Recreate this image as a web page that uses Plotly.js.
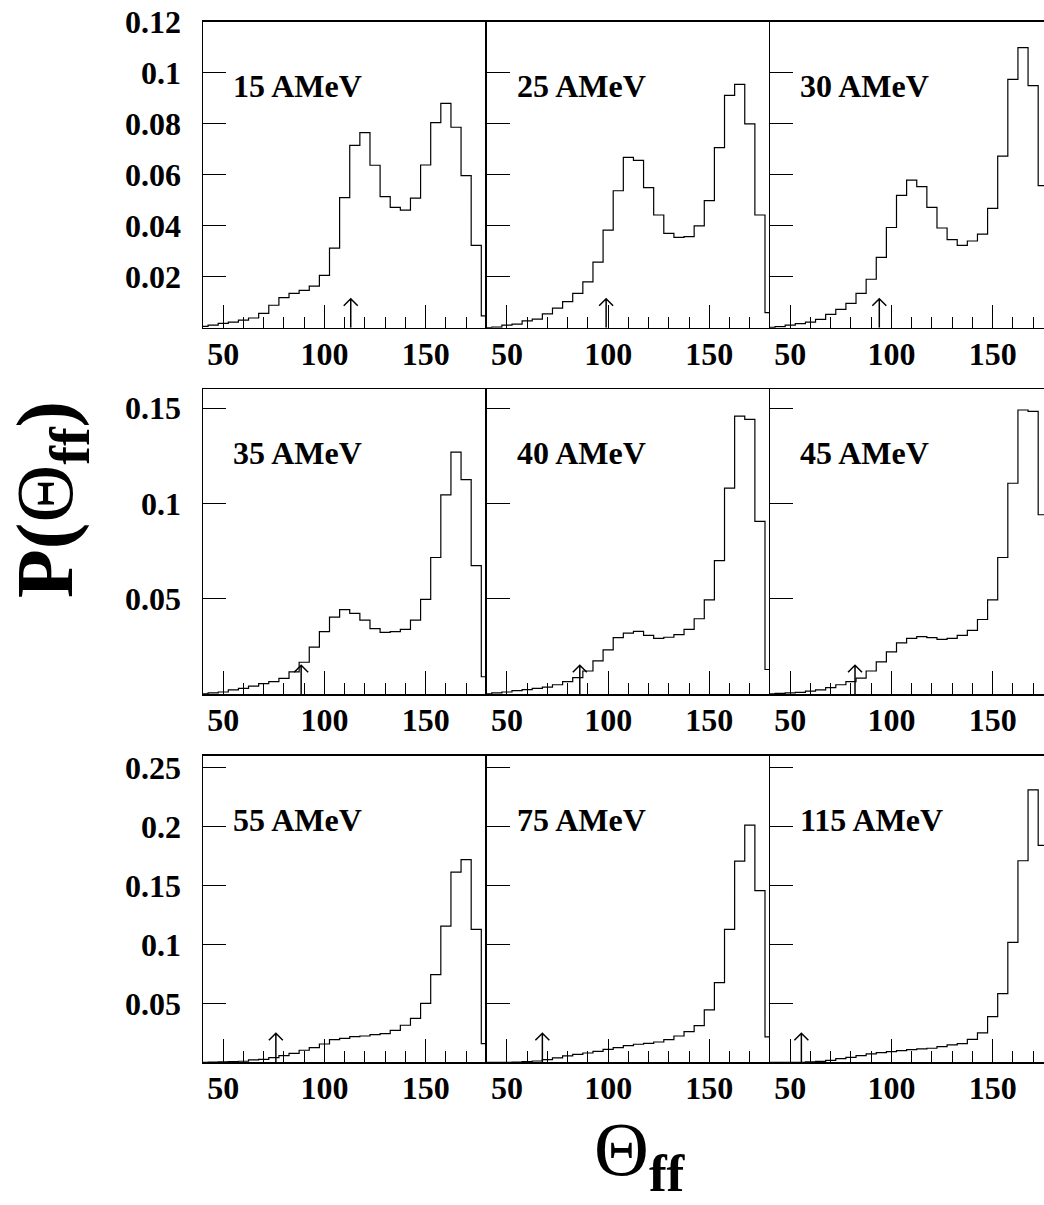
<!DOCTYPE html>
<html><head><meta charset="utf-8">
<script src="https://cdn.plot.ly/plotly-3.0.1.min.js"></script>
<style>html,body{margin:0;padding:0;background:#fff}</style>
</head><body>
<div id="chart" style="width:1044px;height:1205px"></div>
<script>
// ---- data ----
const theta = [40,45,50,55,60,65,70,75,80,85,90,95,100,105,110,115,120,125,130,135,140,145,150,155,160,165,170,175,180];
const energyLabels = ['15 AMeV','25 AMeV','30 AMeV','35 AMeV','40 AMeV','45 AMeV','55 AMeV','75 AMeV','115 AMeV'];
const p15 = [0.0005,0.001,0.0017,0.0022,0.003,0.0038,0.0056,0.0088,0.0118,0.0135,0.0146,0.0163,0.0205,0.0312,0.051,0.0715,0.0765,0.0637,0.0514,0.0472,0.0461,0.0508,0.0638,0.0804,0.088,0.0786,0.0596,0.0323,0.0046];
const p25 = [0,0.0002,0.001,0.0014,0.0027,0.0034,0.0054,0.0077,0.0102,0.0135,0.018,0.0257,0.0383,0.0537,0.0668,0.0656,0.0549,0.0442,0.037,0.0354,0.0357,0.0399,0.0498,0.0706,0.0911,0.0954,0.0799,0.0442,0.0059];
const p30 = [0.0001,0.0004,0.001,0.0016,0.0022,0.0033,0.0052,0.0072,0.0095,0.0135,0.019,0.0276,0.0393,0.0519,0.0579,0.0553,0.0472,0.0391,0.0345,0.0323,0.034,0.0367,0.0468,0.0673,0.0974,0.1098,0.0949,0.0557,0.01];
const p35 = [0.0003,0.0007,0.0012,0.0023,0.0031,0.0043,0.0056,0.0066,0.0083,0.0118,0.0168,0.0247,0.0328,0.0404,0.0444,0.0424,0.0389,0.0344,0.0325,0.0328,0.034,0.0389,0.0497,0.0717,0.1045,0.1269,0.1125,0.0674,0.0092];
const p40 = [0.0003,0.0007,0.0012,0.0019,0.0024,0.0031,0.0038,0.005,0.0066,0.0087,0.0122,0.0175,0.0233,0.0297,0.0321,0.033,0.0309,0.0293,0.0299,0.0313,0.034,0.0396,0.0495,0.0701,0.108,0.1458,0.1441,0.0906,0.013];
const p45 = [0.0003,0.0005,0.0007,0.001,0.0017,0.0023,0.0035,0.005,0.0066,0.0085,0.0122,0.017,0.0222,0.0269,0.0293,0.0302,0.0297,0.0288,0.0293,0.0309,0.0335,0.0392,0.0495,0.0717,0.1106,0.149,0.1483,0.0941,0.015];
const p55 = [0,0.0002,0.0003,0.0005,0.0009,0.002,0.0025,0.004,0.0056,0.0076,0.0102,0.0124,0.0155,0.0192,0.0203,0.0218,0.0223,0.0234,0.0243,0.0271,0.0314,0.0373,0.05,0.0743,0.1155,0.1613,0.1718,0.1127,0.0158];
const p75 = [0,0,0,0.0002,0.0006,0.0011,0.0023,0.0037,0.0054,0.0068,0.0079,0.0093,0.011,0.0124,0.0141,0.0153,0.0161,0.0172,0.0192,0.0223,0.026,0.0311,0.0444,0.0675,0.1127,0.1706,0.2011,0.1455,0.0215];
const p115 = [0,0,0,0,0.0003,0.0008,0.0017,0.0031,0.0042,0.0056,0.0071,0.0082,0.009,0.0099,0.0107,0.0113,0.0119,0.0133,0.0147,0.0158,0.0195,0.0249,0.0387,0.0582,0.1017,0.1709,0.2311,0.1839,0.1];
const arrowTheta = [113,99,94,88.5,86,82,76,67.5,55.5];
const xTickVals = [50,100,150];
const xTickText = ['50','100','150'];
const yTickValsRow1 = [0.02,0.04,0.06,0.08,0.1,0.12];
const yTickTextRow1 = ['0.02','0.04','0.06','0.08','0.1','0.12'];
const yTickValsRow2 = [0.05,0.1,0.15];
const yTickTextRow2 = ['0.05','0.1','0.15'];
const yTickValsRow3 = [0.05,0.1,0.15,0.2,0.25];
const yTickTextRow3 = ['0.05','0.1','0.15','0.2','0.25'];
const yMaxRows = [0.12,0.16,0.26];

const series = [p15,p25,p30,p35,p40,p45,p55,p75,p115];
const yTicks = [[yTickValsRow1,yTickTextRow1],[yTickValsRow2,yTickTextRow2],[yTickValsRow3,yTickTextRow3]];

// ---- geometry (pixels) ----
const W = 1044, H = 1205;
const colLeft = [203, 486.7, 770], colRight = [486.7, 770, 1044];
const rowTop = [21.7, 389, 755.7], rowBottom = [327.7, 694.3, 1062.3];
const pxPerUnit = 2.024;
const FONT = 'Liberation Serif, Times New Roman, serif';

const layout = {
  width: W, height: H, margin:{l:0,r:0,t:0,b:0},
  paper_bgcolor:'white', plot_bgcolor:'white', showlegend:false,
  shapes: [], annotations: []
};
const data = [];

for (let i = 0; i < 9; i++) {
  const r = Math.floor(i/3), c = i % 3;
  const n = i === 0 ? '' : String(i+1);
  const xmax = 40 + (colRight[c]-colLeft[c]) / pxPerUnit;
  layout['xaxis'+n] = {
    domain:[colLeft[c]/W, colRight[c]/W], range:[40, xmax], anchor:'y'+n,
    showline:true, mirror:true, linecolor:'black', linewidth:1.5,
    ticks:'inside', ticklen:23, tickwidth:1, tickcolor:'black',
    tickmode:'array', tickvals:xTickVals, ticktext:xTickText,
    minor:{dtick:10, tick0:0, ticks:'inside', ticklen:11, tickwidth:1, tickcolor:'black', showgrid:false},
    showgrid:false, zeroline:false, fixedrange:true,
    tickfont:{family:FONT, size:32, weight:'bold', color:'black'},
    ticklabelstandoff: -3
  };
  layout['yaxis'+n] = {
    domain:[1-rowBottom[r]/H, 1-rowTop[r]/H], range:[0, yMaxRows[r]], anchor:'x'+n,
    showline:true, mirror:false, linecolor:'black', linewidth:1.5,
    ticks:'inside', ticklen:23, tickwidth:1, tickcolor:'black',
    tickmode:'array', tickvals:yTicks[r][0], ticktext:yTicks[r][1],
    showticklabels: c === 0,
    showgrid:false, zeroline:false, fixedrange:true,
    tickfont:{family:FONT, size:32, weight:'bold', color:'black'},
    ticklabelstandoff: 14
  };
  data.push({
    type:'scatter', mode:'lines', x: theta, y: series[i],
    xaxis:'x'+n, yaxis:'y'+n, hoverinfo:'skip',
    line:{shape:'hvh', color:'black', width:1.2}
  });
  layout.shapes.push({
    type:'path', xref:'x'+n, yref:'y'+n,
    xsizemode:'pixel', ysizemode:'pixel', xanchor: arrowTheta[i], yanchor: 0,
    path:'M0,0L0,29M-7,22L0,29L7,22',
    line:{color:'black', width:1.5}
  });
  layout.annotations.push({
    xref:'x'+n+' domain', yref:'y'+n+' domain', x:0, y:1,
    xanchor:'left', yanchor:'middle', xshift:28, yshift:-64,
    text: energyLabels[i], showarrow:false,
    font:{family:FONT, size:32, weight:'bold', color:'black'}
  });
}

// axis titles
layout.annotations.push({
  xref:'paper', yref:'paper', x: 51/W, y: 1-500/H, xanchor:'center', yanchor:'middle',
  textangle:-90, showarrow:false,
  text:'<b>P(</b>Θ<sub><b>ff</b></sub><b>)</b>',
  font:{family:FONT, size:80, color:'black'}
});
layout.annotations.push({
  xref:'paper', yref:'paper', x: 640/W, y: 1-1155/H, xanchor:'center', yanchor:'middle',
  showarrow:false,
  text:'Θ<sub><b>ff</b></sub>',
  font:{family:FONT, size:76, color:'black'}
});

Plotly.newPlot('chart', data, layout, {staticPlot:true, displayModeBar:false});
</script>
</body></html>
